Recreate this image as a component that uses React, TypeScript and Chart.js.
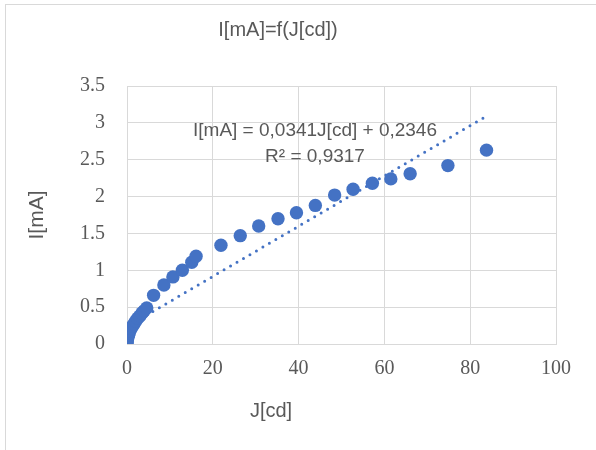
import React, { useEffect, useRef } from "react";
import { Chart, registerables } from "chart.js";

Chart.register(...registerables);

// Luminous intensity J [cd]
const J_cd = [
  0, 0.05, 0.1, 0.2, 0.35, 0.5, 0.7, 0.95, 1.25, 1.6, 2.0, 2.5, 3.0, 3.5, 4.0, 4.6,
  6.2, 8.6, 10.7, 12.9, 15.1, 16.1, 21.9, 26.4, 30.7, 35.2, 39.5, 43.9, 48.4,
  52.7, 57.2, 61.5, 66.0, 74.8, 83.8,
];
// Current I [mA]
const I_mA = [
  0, 0.03, 0.06, 0.09, 0.12, 0.15, 0.18, 0.21, 0.24, 0.27, 0.31, 0.35, 0.38, 0.42, 0.45, 0.49,
  0.66, 0.8, 0.91, 1.0, 1.11, 1.19, 1.34, 1.47, 1.6, 1.7, 1.78, 1.88, 2.02,
  2.1, 2.18, 2.24, 2.31, 2.42, 2.63,
];

// Linear trendline (from the chart's equation)
const trendSlope = 0.0341;
const trendIntercept = 0.2346;
const trendLabel = "I[mA] = 0,0341J[cd] + 0,2346";
const r2Label = "R² = 0,9317";

const chartTitle = "I[mA]=f(J[cd])";
const xTitle = "J[cd]";
const yTitle = "I[mA]";

const xMin = 0;
const xMax = 100;
const xStep = 20;
const yMin = 0;
const yMax = 3.5;
const yStep = 0.5;

const BLUE = "#4472C4";
const GRAY_TEXT = "#595959";
const GRID = "#d9d9d9";

export default function App() {
  const canvasRef = useRef<HTMLCanvasElement | null>(null);

  useEffect(() => {
    const canvas = canvasRef.current;
    if (!canvas) return;

    const points = J_cd.map((x, i) => ({ x, y: I_mA[i] }));
    const tx0 = Math.min(...J_cd);
    const tx1 = Math.max(...J_cd);
    const trend = [
      { x: tx0, y: trendSlope * tx0 + trendIntercept },
      { x: tx1, y: trendSlope * tx1 + trendIntercept },
    ];

    const labelsPlugin = {
      id: "labelsPlugin",
      afterDraw(chart: any) {
        const ctx = chart.ctx;
        ctx.save();
        ctx.fillStyle = GRAY_TEXT;
        ctx.textAlign = "center";
        ctx.textBaseline = "middle";
        ctx.font = "19px 'Liberation Sans', Arial, sans-serif";
        ctx.fillText(trendLabel, 315, 131);
        ctx.fillText(r2Label, 315, 157);
        ctx.font = "20px 'Liberation Sans', Arial, sans-serif";
        ctx.fillText(xTitle, 271, 411);
        ctx.restore();
      },
    };

    const chart = new Chart(canvas, {
      type: "scatter",
      data: {
        datasets: [
          {
            label: "I",
            data: points,
            backgroundColor: BLUE,
            borderColor: BLUE,
            borderWidth: 0,
            pointRadius: 6.7,
            pointHoverRadius: 6.7,
          },
          {
            label: "trend",
            type: "line",
            data: trend,
            showLine: true,
            borderColor: BLUE,
            borderWidth: 3,
            borderDash: [0, 7.5],
            borderCapStyle: "round",
            pointRadius: 0,
            fill: false,
            tension: 0,
          } as any,
        ],
      },
      options: {
        responsive: false,
        animation: false,
        events: [],
        layout: { padding: { left: 0, right: 40, top: 0, bottom: 0 } },
        plugins: {
          legend: { display: false },
          tooltip: { enabled: false },
          title: {
            display: true,
            text: chartTitle,
            color: GRAY_TEXT,
            font: { family: "'Liberation Sans', Arial, sans-serif", size: 20, weight: "normal" },
            padding: { top: 18, bottom: 44 },
          },
        },
        scales: {
          x: {
            type: "linear",
            min: xMin,
            max: xMax,
            ticks: {
              stepSize: xStep,
              color: GRAY_TEXT,
              font: { family: "'Liberation Serif', 'Times New Roman', serif", size: 20 },
              padding: 13,
              maxRotation: 0,
              callback: (v: any) => String(v),
            },
            grid: { color: GRID, lineWidth: 1, drawTicks: false },
            border: { color: GRID, width: 1 },
            afterFit: (scale: any) => {
              scale.height = 106;
            },
          },
          y: {
            type: "linear",
            min: yMin,
            max: yMax,
            ticks: {
              stepSize: yStep,
              color: GRAY_TEXT,
              font: { family: "'Liberation Serif', 'Times New Roman', serif", size: 20 },
              padding: 22,
              callback: (v: any) => String(v),
            },
            grid: { color: GRID, lineWidth: 1, drawTicks: false },
            border: { color: GRID, width: 1 },
            title: {
              display: true,
              text: yTitle,
              color: GRAY_TEXT,
              font: { family: "'Liberation Sans', Arial, sans-serif", size: 21 },
              padding: { top: 25, bottom: 0 },
            },
            afterFit: (scale: any) => {
              scale.width = 127;
            },
          },
        },
      },
      plugins: [labelsPlugin],
    });

    return () => {
      chart.destroy();
    };
  }, []);

  return (
    <>
      <div
        style={{
          position: "fixed",
          left: 5,
          top: 4,
          width: 700,
          height: 600,
          border: "1px solid #d9d9d9",
          background: "#ffffff",
        }}
      />
      <canvas
        ref={canvasRef}
        width={596}
        height={450}
        style={{ position: "fixed", left: 0, top: 0, width: 596, height: 450 }}
      />
    </>
  );
}
